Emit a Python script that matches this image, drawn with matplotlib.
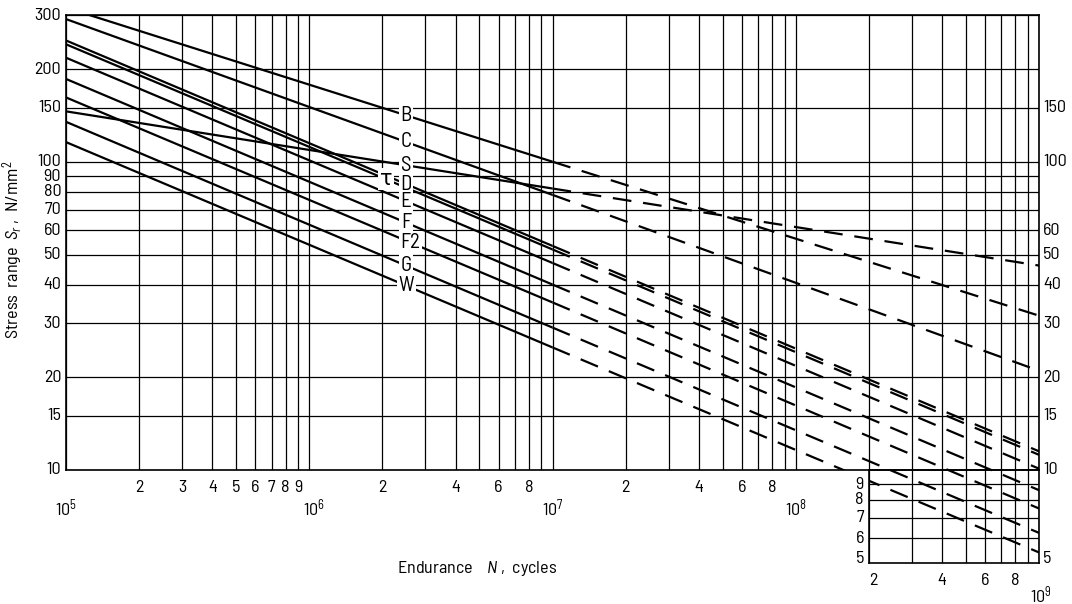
import numpy as np
import matplotlib
matplotlib.use("Agg")
import matplotlib.pyplot as plt
import matplotlib.transforms as mtransforms
from matplotlib import font_manager as fm
from matplotlib.ticker import FixedLocator, NullLocator, NullFormatter

# ---------------- data ----------------
classes = ['B', 'C', 'S', 'D', 'T', 'E', 'F', 'F2', 'G', 'W']
class_labels = ['B', 'C', 'S', 'D', 'τ', 'E', 'F', 'F2', 'G', 'W']
endurance_points = [1e5, 1e7, 1e9]
stress_at_1e5 = [317.0, 291.0, 146.0, 248.0, 241.0, 218.0, 186.0, 162.0, 135.0, 116.0]
stress_at_1e7 = [100.2, 78.2, 82.0, 53.4, 52.0, 47.0, 40.0, 35.0, 29.0, 25.0]
stress_at_1e9 = [31.7, 21.0, 46.1, 11.5, 11.2, 10.1, 8.6, 7.5, 6.25, 5.4]
label_endurance = [2.5e6, 2.5e6, 2.5e6, 2.5e6, 2.07e6, 2.5e6, 2.5e6, 2.6e6, 2.5e6, 2.5e6]

stress_ticks_left = [300, 200, 150, 100, 90, 80, 70, 60, 50, 40, 30, 20, 15, 10]
stress_ticks_right = [150, 100, 60, 50, 40, 30, 20, 15, 10]
stress_ticks_ext = [9, 8, 7, 6, 5]
digits_per_decade = [[2, 3, 4, 5, 6, 7, 8, 9], [2, 4, 6, 8], [2, 4, 6, 8]]
decade_exponents = [5, 6, 7, 8]
ext_digits = [2, 4, 6, 8]

# ---------------- font choice ----------------
available = {f.name for f in fm.fontManager.ttflist}
candidates = ['Barlow Semi Condensed', 'Liberation Sans Narrow', 'Roboto Condensed',
              'PT Sans Narrow', 'Archivo Narrow', 'Encode Sans Condensed',
              'Saira Semi Condensed', 'Liberation Sans']
FONT = next((c for c in candidates if c in available), 'DejaVu Sans')

plt.rcParams['font.family'] = [FONT, 'DejaVu Sans']
plt.rcParams['mathtext.fontset'] = 'custom'
plt.rcParams['mathtext.rm'] = FONT
plt.rcParams['mathtext.it'] = FONT + ':italic'
plt.rcParams['mathtext.bf'] = FONT + ':bold'
plt.rcParams['lines.scale_dashes'] = False
FS = 13
LFS = 15
GRID_LW = 0.9
CURVE_LW = 1.6
DASH = (0, (13.5, 8.5))

W, H = 1072, 604
fig = plt.figure(figsize=(W / 100, H / 100), dpi=100)

# pixel layout
x0, x1 = 66, 1039          # 1e5 .. 1e9
y_top, y_10 = 15, 470      # 300 .. 10
px_dec_y = (y_10 - y_top) / np.log10(30)
y_5 = y_10 + px_dec_y * np.log10(2)
px_dec_x = (x1 - x0) / 4
x_2e8 = x0 + px_dec_x * (3 + np.log10(2))

ax = fig.add_axes([x0 / W, 1 - y_10 / H, (x1 - x0) / W, (y_10 - y_top) / H])
axe = fig.add_axes([x_2e8 / W, 1 - y_5 / H, (x1 - x_2e8) / W, (y_5 - y_10) / H])

ax.set_xscale('log'); ax.set_yscale('log')
axe.set_xscale('log'); axe.set_yscale('log')
ax.set_xlim(1e5, 1e9); ax.set_ylim(10, 300)
axe.set_xlim(2e8, 1e9); axe.set_ylim(5, 10)

xgrid = [d * 10.0 ** e for e in range(5, 9) for d in range(1, 10)] + [1e9]
for a in (ax, axe):
    a.xaxis.set_major_locator(FixedLocator(xgrid))
    a.xaxis.set_minor_locator(NullLocator())
    a.yaxis.set_minor_locator(NullLocator())
    a.xaxis.set_major_formatter(NullFormatter())
    a.yaxis.set_major_formatter(NullFormatter())
    a.tick_params(length=0, which='both')
    a.grid(True, color='black', lw=GRID_LW)
    for s in a.spines.values():
        s.set_linewidth(1.2)
    a.set_facecolor('none')
ax.yaxis.set_major_locator(FixedLocator(stress_ticks_left))
axe.yaxis.set_major_locator(FixedLocator([9, 8, 7, 6]))

# ---------------- curves ----------------
for i, c in enumerate(classes):
    s5, s7, s9 = stress_at_1e5[i], stress_at_1e7[i], stress_at_1e9[i]
    for a in (ax, axe):
        a.plot(endurance_points[:2], [s5, s7], color='black', lw=CURVE_LW,
               solid_capstyle='butt', zorder=3)
        a.plot(endurance_points[1:], [s7, s9], color='black', lw=CURVE_LW,
               linestyle=DASH, dash_capstyle='butt', zorder=3)
    ln = np.log10(label_endurance[i])
    ls = np.interp(ln, np.log10(endurance_points), np.log10([s5, s7, s9]))
    ax.text(10 ** ln, 10 ** ls, class_labels[i], fontsize=LFS, ha='center',
            va='center', zorder=5,
            bbox=dict(boxstyle='square,pad=0.08', fc='white', ec='none'))

# ---------------- tick labels ----------------
blend = mtransforms.blended_transform_factory
off = mtransforms.offset_copy
for v in stress_ticks_left:
    ax.text(-0.005, v, str(v), transform=blend(ax.transAxes, ax.transData),
            ha='right', va='center', fontsize=FS)
for v in stress_ticks_right:
    ax.text(1.004, v, str(v), transform=blend(ax.transAxes, ax.transData),
            ha='left', va='center', fontsize=FS)
for v in stress_ticks_ext:
    dy = 4 if v == 5 else 0
    axe.text(-0.03, v, str(v),
             transform=off(blend(axe.transAxes, axe.transData), fig=fig, y=dy, units='dots'),
             ha='right', va='center', fontsize=FS)
axe.text(1.02, 5, '5',
         transform=off(blend(axe.transAxes, axe.transData), fig=fig, y=4, units='dots'),
         ha='left', va='center', fontsize=FS)

for k, digs in enumerate(digits_per_decade):
    for d in digs:
        ax.text(d * 10.0 ** (5 + k), 0, str(d),
                transform=off(blend(ax.transData, ax.transAxes), fig=fig, y=-18, units='dots'),
                ha='center', va='center', fontsize=FS)
for e in decade_exponents:
    dx = 5 if e == 6 else 0
    ax.text(10.0 ** e, 0, r'$10^{%d}$' % e,
            transform=off(blend(ax.transData, ax.transAxes), fig=fig, x=dx, y=-38, units='dots'),
            ha='center', va='center', fontsize=FS)
for d in ext_digits:
    axe.text(d * 1e8, 0, str(d),
             transform=off(blend(axe.transData, axe.transAxes), fig=fig,
                           x=(4 if d == 2 else 0), y=-18, units='dots'),
             ha='center', va='center', fontsize=FS)
axe.text(1e9, 0, r'$10^{9}$',
         transform=off(blend(axe.transData, axe.transAxes), fig=fig, x=2, y=-32, units='dots'),
         ha='center', va='center', fontsize=FS)

fig.text(13 / W, 1 - 250 / H, r'Stress  range  $S_r$ ,  N/mm$^2$', rotation=90,
         ha='center', va='center', fontsize=FS)
fig.text(477 / W, 1 - 568 / H, r'Endurance    $N$ ,  cycles', ha='center',
         va='center', fontsize=FS)

fig.savefig('out.png', dpi=100, facecolor='white')
